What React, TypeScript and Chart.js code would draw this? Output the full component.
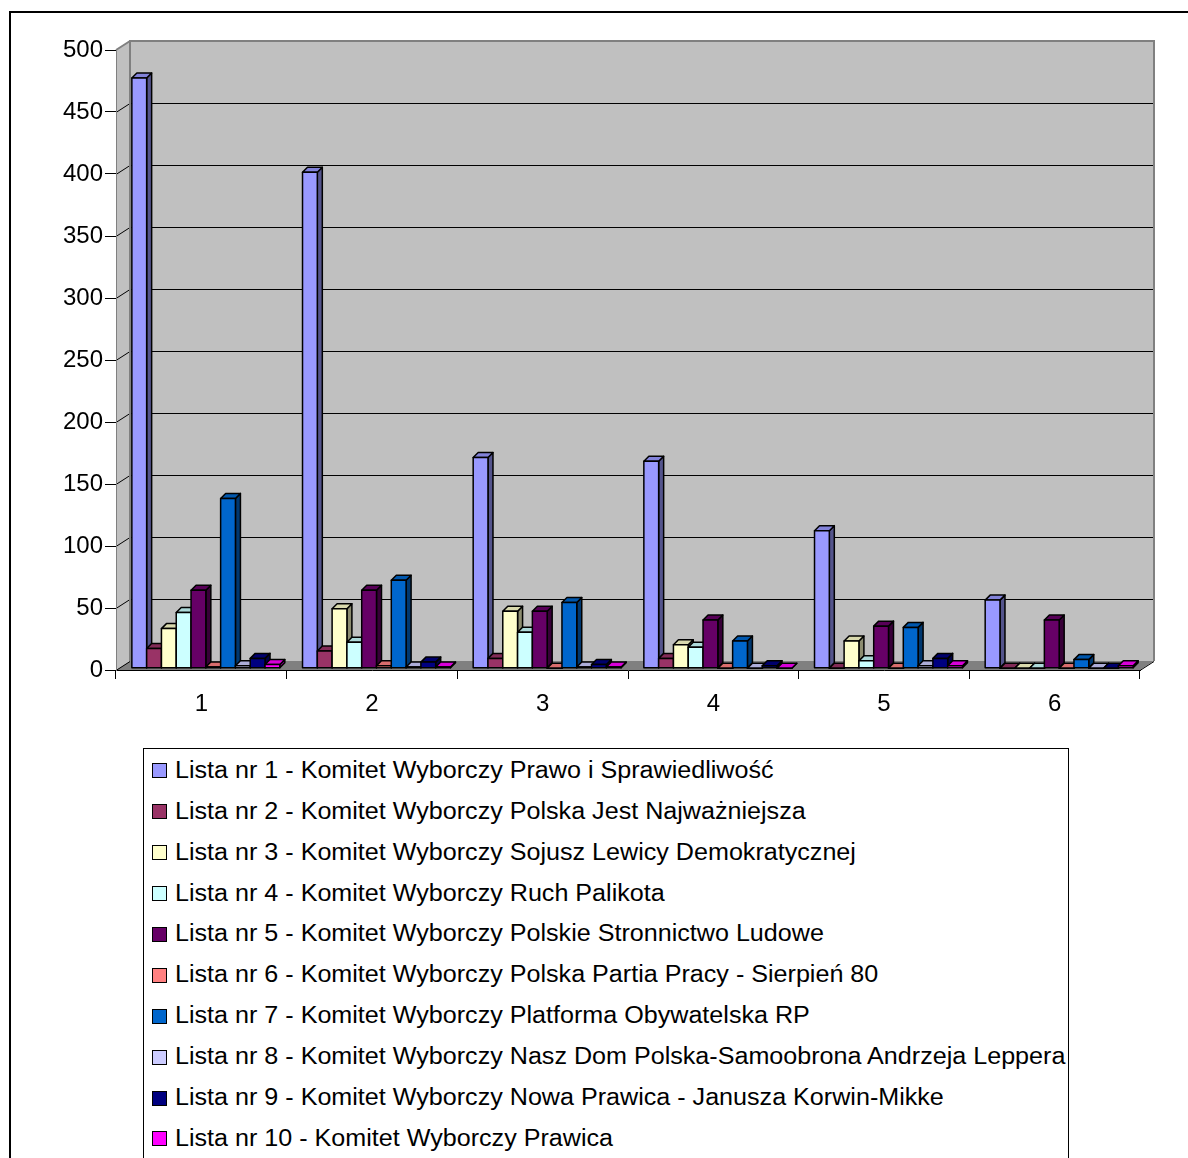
import React, { useEffect, useRef } from 'react';
import { Chart, registerables } from 'chart.js';

Chart.register(...registerables);

const categories = ['1', '2', '3', '4', '5', '6'];

const seriesLabels = [
  'Lista nr 1 - Komitet Wyborczy Prawo i Sprawiedliwość',
  'Lista nr 2 - Komitet Wyborczy Polska Jest Najważniejsza',
  'Lista nr 3 - Komitet Wyborczy Sojusz Lewicy Demokratycznej',
  'Lista nr 4 - Komitet Wyborczy Ruch Palikota',
  'Lista nr 5 - Komitet Wyborczy Polskie Stronnictwo Ludowe',
  'Lista nr 6 - Komitet Wyborczy Polska Partia Pracy - Sierpień 80',
  'Lista nr 7 - Komitet Wyborczy Platforma Obywatelska RP',
  'Lista nr 8 - Komitet Wyborczy Nasz Dom Polska-Samoobrona Andrzeja Leppera',
  'Lista nr 9 - Komitet Wyborczy Nowa Prawica - Janusza Korwin-Mikke',
  'Lista nr 10 - Komitet Wyborczy Prawica',
];

const seriesColors = [
  '#9999FF', '#993366', '#FFFFCC', '#CCFFFF', '#660066',
  '#FF8080', '#0066CC', '#CCCCFF', '#000080', '#FF00FF',
];

const lista1 = [476, 400, 170, 167, 111, 55];
const lista2 = [16, 14, 8, 8, 0, 0];
const lista3 = [32, 48, 46, 19, 22, 0];
const lista4 = [45, 21, 29, 17, 6, 0];
const lista5 = [63, 63, 46, 39, 34, 39];
const lista6 = [1, 2, 0, 0, 0, 0];
const lista7 = [137, 71, 53, 22, 33, 7];
const lista8 = [2, 1, 1, 0, 2, 0];
const lista9 = [8, 5, 3, 2, 8, 0];
const lista10 = [3, 1, 1, 0, 2, 2];

const seriesValues = [lista1, lista2, lista3, lista4, lista5, lista6, lista7, lista8, lista9, lista10];

const yTicks = [0, 50, 100, 150, 200, 250, 300, 350, 400, 450, 500];

const FONT = "'Liberation Sans', Arial, sans-serif";

// 3D geometry
const WDX = 14;
const WDY = -9;
const BDX = 5;
const BDY = -5;
const SX = 4.5;
const SY = -1.7;

function shade(hex: string, f: number) {
  const n = parseInt(hex.slice(1), 16);
  const r = Math.round(((n >> 16) & 255) * f);
  const g = Math.round(((n >> 8) & 255) * f);
  const b = Math.round((n & 255) * f);
  return `rgb(${r},${g},${b})`;
}

function poly(ctx: CanvasRenderingContext2D, pts: number[][], fill?: string, stroke?: string, lw = 1) {
  ctx.beginPath();
  ctx.moveTo(pts[0][0], pts[0][1]);
  for (let i = 1; i < pts.length; i++) ctx.lineTo(pts[i][0], pts[i][1]);
  ctx.closePath();
  if (fill) {
    ctx.fillStyle = fill;
    ctx.fill();
  }
  if (stroke) {
    ctx.strokeStyle = stroke;
    ctx.lineWidth = lw;
    ctx.stroke();
  }
}

const threeD = {
  id: 'threeD',
  beforeDraw(chart: any) {
    const { ctx, chartArea: a } = chart;
    const ys = chart.scales.y;
    const L = a.left, R = a.right, T = a.top, B = a.bottom;
    ctx.save();
    ctx.fillStyle = '#C0C0C0';
    ctx.fillRect(L + WDX, T + WDY, R - L, B - T);
    poly(ctx, [[L, T], [L + WDX, T + WDY], [L + WDX, B + WDY], [L, B]], '#C0C0C0');
    poly(ctx, [[L, B], [L + WDX, B + WDY], [R + WDX, B + WDY], [R, B]], '#808080');
    ctx.strokeStyle = '#000';
    ctx.lineWidth = 1;
    yTicks.forEach((v) => {
      if (v === yTicks[yTicks.length - 1]) return;
      const py = Math.round(ys.getPixelForValue(v)) + 0.5;
      ctx.beginPath();
      if (v !== 0) {
        ctx.moveTo(L + WDX, py + WDY);
        ctx.lineTo(R + WDX, py + WDY);
      }
      ctx.moveTo(L, py);
      ctx.lineTo(L + WDX, py + WDY);
      ctx.stroke();
    });
    ctx.strokeStyle = '#808080';
    ctx.lineWidth = 2;
    ctx.beginPath();
    ctx.moveTo(L + WDX, B + WDY);
    ctx.lineTo(L + WDX, T + WDY);
    ctx.lineTo(R + WDX, T + WDY);
    ctx.lineTo(R + WDX, B + WDY);
    ctx.moveTo(L, T);
    ctx.lineTo(L + WDX, T + WDY);
    ctx.stroke();
    ctx.restore();
  },
  beforeDatasetsDraw(chart: any) {
    const { ctx } = chart;
    ctx.save();
    ctx.lineJoin = 'round';
    chart.data.datasets.forEach((ds: any, i: number) => {
      const meta = chart.getDatasetMeta(i);
      if (meta.hidden) return;
      const color = seriesColors[i];
      meta.data.forEach((el: any) => {
        const p = el.getProps(['x', 'y', 'base', 'width'], true);
        const l = p.x - p.width / 2 + SX;
        const r = p.x + p.width / 2 + SX;
        const t = Math.min(p.y, p.base) + SY;
        const b = Math.max(p.y, p.base) + SY;
        poly(ctx, [[r, t], [r + BDX, t + BDY], [r + BDX, b + BDY], [r, b]], shade(color, 0.55), '#000', 1.5);
        poly(ctx, [[l, t], [l + BDX, t + BDY], [r + BDX, t + BDY], [r, t]], shade(color, 0.85), '#000', 1.5);
        poly(ctx, [[l, t], [r, t], [r, b], [l, b]], color, '#000', 1.5);
      });
    });
    ctx.restore();
    return false;
  },
  afterDraw(chart: any) {
    const { ctx, chartArea: a } = chart;
    ctx.save();
    ctx.strokeStyle = '#000';
    ctx.lineWidth = 1;
    ctx.beginPath();
    ctx.moveTo(a.right, a.bottom + 0.5);
    ctx.lineTo(a.right + WDX, a.bottom + WDY + 0.5);
    ctx.stroke();
    ctx.restore();
  },
};

function ChartCanvas() {
  const ref = useRef<HTMLCanvasElement | null>(null);
  useEffect(() => {
    if (!ref.current) return;
    const chart = new Chart(ref.current, {
      type: 'bar',
      data: {
        labels: categories,
        datasets: seriesValues.map((vals, i) => ({
          label: seriesLabels[i],
          data: vals,
          backgroundColor: seriesColors[i],
          borderColor: '#000',
          borderWidth: 1,
          categoryPercentage: 0.867,
          barPercentage: 1,
        })),
      },
      options: {
        responsive: false,
        animation: false,
        events: [],
        layout: { padding: { left: 0, right: 48, top: 50, bottom: 0 } },
        plugins: {
          legend: { display: false },
          tooltip: { enabled: false },
          title: { display: false },
        },
        scales: {
          x: {
            type: 'category',
            offset: true,
            grid: {
              offset: true,
              drawOnChartArea: false,
              drawTicks: true,
              tickLength: 9,
              color: '#000',
              lineWidth: 1,
            },
            border: { display: true, color: '#000', width: 1 },
            ticks: { color: '#000', font: { family: FONT, size: 24 }, padding: 11, maxRotation: 0 },
            afterFit: (scale: any) => { scale.height = 70; },
          },
          y: {
            min: 0,
            max: 500,
            afterBuildTicks: (scale: any) => { scale.ticks = yTicks.map((v) => ({ value: v })); },
            grid: {
              drawOnChartArea: false,
              drawTicks: true,
              tickLength: 11,
              color: '#000',
              lineWidth: 1,
            },
            border: { display: true, color: '#808080', width: 1 },
            ticks: { color: '#000', font: { family: FONT, size: 24 }, padding: 2 },
            afterFit: (scale: any) => { scale.width = 116; },
          },
        },
      },
      plugins: [threeD],
    });
    return () => chart.destroy();
  }, []);
  return (
    <canvas
      ref={ref}
      width={1188}
      height={740}
      style={{ position: 'absolute', left: 0, top: 0, width: 1188, height: 740 }}
    />
  );
}

export default function App() {
  return (
    <div
      style={{
        position: 'absolute',
        left: 0,
        top: 0,
        width: 1188,
        height: 1158,
        overflow: 'hidden',
        background: '#fff',
        fontFamily: FONT,
      }}
    >
      <div
        style={{
          position: 'absolute',
          left: 9,
          top: 11,
          width: 2000,
          height: 2000,
          borderTop: '2px solid #000',
          borderLeft: '2px solid #000',
        }}
      />
      <ChartCanvas />
      <div
        style={{
          position: 'absolute',
          left: 143,
          top: 748,
          width: 926,
          height: 600,
          boxSizing: 'border-box',
          border: '1px solid #000',
          background: '#fff',
        }}
      >
        {seriesLabels.map((lab, i) => (
          <div
            key={i}
            style={{
              position: 'absolute',
              left: 0,
              top: 0.8 + i * 40.9,
              height: 41,
              lineHeight: '41px',
              whiteSpace: 'nowrap',
            }}
          >
            <span
              style={{
                position: 'absolute',
                left: 7.5,
                top: 13.5,
                width: 15,
                height: 15,
                boxSizing: 'border-box',
                border: '1px solid #000',
                background: seriesColors[i],
              }}
            />
            <span
              style={{
                position: 'absolute',
                left: 31,
                top: 0,
                fontSize: 23,
                color: '#000',
                display: 'inline-block',
                transform: 'scaleX(1.092)',
                transformOrigin: 'left center',
              }}
            >
              {lab}
            </span>
          </div>
        ))}
      </div>
    </div>
  );
}
